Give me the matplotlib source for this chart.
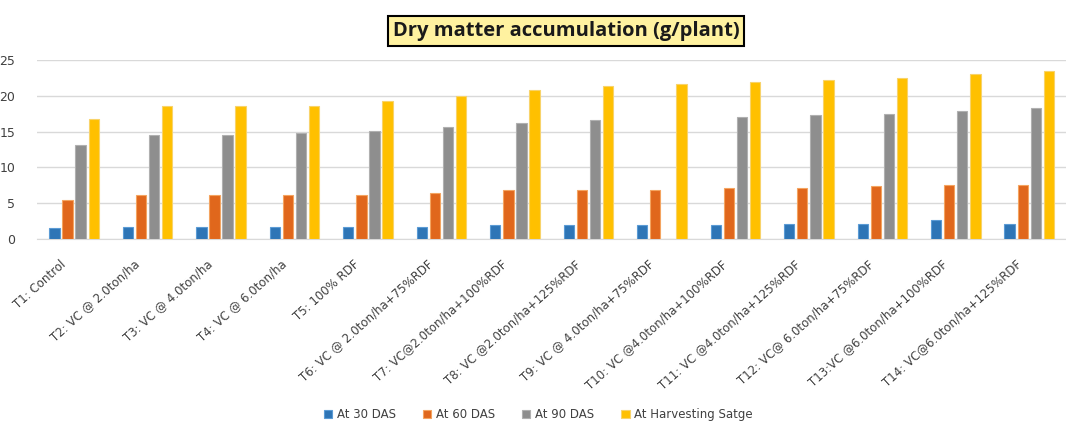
import numpy as np
import matplotlib.pyplot as plt
from matplotlib.transforms import ScaledTranslation

treatments = [
    "T1: Control",
    "T2: VC @ 2.0ton/ha",
    "T3: VC @ 4.0ton/ha",
    "T4: VC @ 6.0ton/ha",
    "T5: 100% RDF",
    "T6: VC @ 2.0ton/ha+75%RDF",
    "T7: VC@2.0ton/ha+100%RDF",
    "T8: VC @2.0ton/ha+125%RDF",
    "T9: VC @ 4.0ton/ha+75%RDF",
    "T10: VC @4.0ton/ha+100%RDF",
    "T11: VC @4.0ton/ha+125%RDF",
    "T12: VC@ 6.0ton/ha+75%RDF",
    "T13:VC @6.0ton/ha+100%RDF",
    "T14: VC@6.0ton/ha+125%RDF",
]

das30 = [1.5, 1.7, 1.7, 1.7, 1.7, 1.7, 1.9, 2.0, 2.0, 2.0, 2.1, 2.1, 2.7, 2.1]
das60 = [5.4, 6.1, 6.1, 6.1, 6.2, 6.5, 6.8, 6.9, 6.9, 7.2, 7.2, 7.4, 7.5, 7.6]
das90 = [13.1, 14.5, 14.5, 14.8, 15.1, 15.6, 16.2, 16.7, 0, 17.1, 17.3, 17.5, 17.9, 18.3]
harvest = [16.8, 18.6, 18.6, 18.6, 19.3, 20.0, 20.9, 21.4, 21.7, 21.9, 22.2, 22.5, 23.0, 23.5]

series = [das30, das60, das90, harvest]
names = ["At 30 DAS", "At 60 DAS", "At 90 DAS", "At Harvesting Satge"]
colors = ["#2E75B6", "#E0671C", "#8E8E8E", "#FFC000"]
edges = ["#5B9BD5", "#F4A460", "#B0B0B0", "#F8D36A"]

fig = plt.figure(figsize=(10.66, 4.33), dpi=100)
ax = fig.add_axes([0.035, 0.448, 0.965, 0.413])

x = np.arange(len(treatments))
w = 0.14
step = 0.178
for k, vals in enumerate(series):
    ax.bar(x + (k - 1.5) * step, vals, width=w, color=colors[k],
           edgecolor=edges[k], linewidth=0.8, label=names[k], zorder=3)

ax.set_xlim(-0.5, 13.5)
ax.set_ylim(0, 25)
ax.set_yticks([0, 5, 10, 15, 20, 25])
ax.grid(axis="y", color="#D9D9D9", linewidth=1, zorder=0)
for s in ["top", "right", "left"]:
    ax.spines[s].set_visible(False)
ax.spines["bottom"].set_color("#D9D9D9")
ax.tick_params(axis="both", length=0, colors="#404040", labelsize=9)
ax.tick_params(axis="y", pad=16)
ax.tick_params(axis="x", pad=17)

ax.set_xticks(x)
ax.set_xticklabels(treatments, rotation=42, ha="right", va="center",
                   rotation_mode="anchor", fontsize=8.5, color="#404040")
# nudge the slanted labels a little to the left
shift = ScaledTranslation(-10 / 100, 0, fig.dpi_scale_trans)
for lbl in ax.get_xticklabels():
    lbl.set_transform(lbl.get_transform() + shift)

fig.text(0.531, 0.928, "Dry matter accumulation (g/plant)", ha="center", va="center",
         fontsize=14.5, fontweight="bold", family="Open Sans", color="#1a1a1a",
         bbox=dict(boxstyle="square,pad=0.25", facecolor="#FFF2A0",
                   edgecolor="black", linewidth=1.5))

fig.legend(loc="center", bbox_to_anchor=(0.505, 0.043), ncol=4, frameon=False,
           fontsize=8.5, handlelength=0.7, handleheight=0.7, handletextpad=0.4,
           columnspacing=2.3, labelcolor="#404040")

fig.savefig("out.png", dpi=100)
